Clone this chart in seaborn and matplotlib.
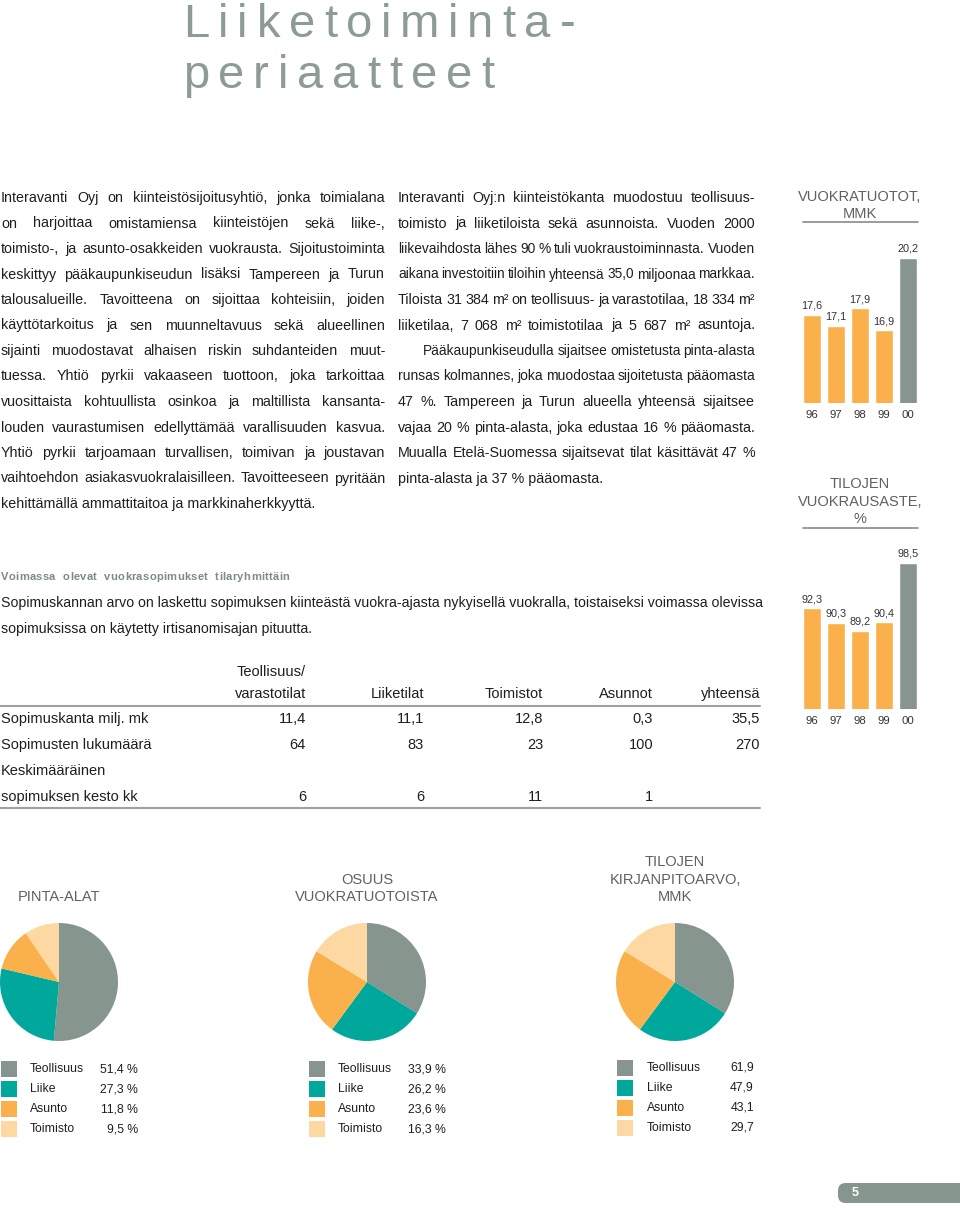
"""
Annual report page: Liiketoimintaperiaatteet
Recreated with matplotlib + seaborn, laid out in page pixels.
"""
import matplotlib
matplotlib.use("Agg")
import matplotlib.pyplot as plt
from matplotlib.patches import Rectangle, FancyBboxPatch
from matplotlib.lines import Line2D
import seaborn as sns

sns.set_theme(style="white")
plt.rcParams["font.family"] = ["Liberation Sans", "DejaVu Sans"]

# ------------------------------------------------------------------ #
# Data
# ------------------------------------------------------------------ #
years = ["96", "97", "98", "99", "00"]
rent_income = [17.6, 17.1, 17.9, 16.9, 20.2]      # VUOKRATUOTOT, MMK
occupancy = [92.3, 90.3, 89.2, 90.4, 98.5]       # TILOJEN VUOKRAUSASTE, %

pie_cats = ["Teollisuus", "Liike", "Asunto", "Toimisto"]
area_share = [51.4, 27.3, 11.8, 9.5]
income_share = [33.9, 26.2, 23.6, 16.3]
book_value = [61.9, 47.9, 43.1, 29.7]

table_cols = ["Teollisuus/\nvarastotilat", "Liiketilat", "Toimistot", "Asunnot", "yhteensä"]
contract_value = [11.4, 11.1, 12.8, 0.3, 35.5]
contract_count = [64, 83, 23, 100, 270]
contract_months = [6, 6, 11, 1, None]

left_text = [
    "Interavanti Oyj on kiinteistösijoitusyhtiö, jonka toimialana",
    "on harjoittaa omistamiensa kiinteistöjen sekä liike-,",
    "toimisto-, ja asunto-osakkeiden vuokrausta. Sijoitustoiminta",
    "keskittyy pääkaupunkiseudun lisäksi Tampereen ja Turun",
    "talousalueille. Tavoitteena on sijoittaa kohteisiin, joiden",
    "käyttötarkoitus ja sen muunneltavuus sekä alueellinen",
    "sijainti muodostavat alhaisen riskin suhdanteiden muut-",
    "tuessa. Yhtiö pyrkii vakaaseen tuottoon, joka tarkoittaa",
    "vuosittaista kohtuullista osinkoa ja maltillista kansanta-",
    "louden vaurastumisen edellyttämää varallisuuden kasvua.",
    "Yhtiö pyrkii tarjoamaan turvallisen, toimivan ja joustavan",
    "vaihtoehdon asiakasvuokralaisilleen. Tavoitteeseen pyritään",
    "kehittämällä ammattitaitoa ja markkinaherkkyyttä.",
]
right_text = [
    "Interavanti Oyj:n kiinteistökanta muodostuu teollisuus-",
    "toimisto ja liiketiloista sekä asunnoista. Vuoden 2000",
    "liikevaihdosta lähes 90 % tuli vuokraustoiminnasta. Vuoden",
    "aikana investoitiin tiloihin yhteensä 35,0 miljoonaa markkaa.",
    "Tiloista 31 384 m² on teollisuus- ja varastotilaa, 18 334 m²",
    "liiketilaa, 7 068 m² toimistotilaa ja 5 687 m² asuntoja.",
    "Pääkaupunkiseudulla sijaitsee omistetusta pinta-alasta",
    "runsas kolmannes, joka muodostaa sijoitetusta pääomasta",
    "47 %. Tampereen ja Turun alueella yhteensä sijaitsee",
    "vajaa 20 % pinta-alasta, joka edustaa 16 % pääomasta.",
    "Muualla Etelä-Suomessa sijaitsevat tilat käsittävät 47 %",
    "pinta-alasta ja 37 % pääomasta.",
]

GRAY = "#87958f"
TEAL = "#00a79b"
ORANGE = "#fbb14b"
PEACH = "#fdd8a2"
TITLE_C = "#8c9b95"
HEAD_C = "#606060"
BODY_C = "#1e1e1e"
pie_colors = [GRAY, TEAL, ORANGE, PEACH]
bar_colors = [ORANGE, ORANGE, ORANGE, ORANGE, GRAY]

# ------------------------------------------------------------------ #
# Page helpers (pixel coordinates, origin top-left)
# ------------------------------------------------------------------ #
W, H = 960, 1208
fig = plt.figure(figsize=(W / 100, H / 100), dpi=100)
renderer = fig.canvas.get_renderer()


def fx(x):
    return x / W


def fy(y):
    return 1 - y / H


def put(x, y, s, **kw):
    kw.setdefault("va", "baseline")
    return fig.text(fx(x), fy(y), s, **kw)


def hline(x0, x1, y, color="#a0a0a0", lw=1.5):
    fig.add_artist(Line2D([fx(x0), fx(x1)], [fy(y), fy(y)], color=color,
                          lw=lw, transform=fig.transFigure))


def width_of(s, **kw):
    t = fig.text(0, 0, s, **kw)
    w = t.get_window_extent(renderer).width
    t.remove()
    return w


def tracked(x, y, s, track, **kw):
    for ch in s:
        if ch != " ":
            put(x, y, ch, **kw)
        x += width_of(ch if ch != " " else "n", **kw) + track


def justified(x0, x1, y, line, justify=True, **kw):
    words = line.split(" ")
    if not justify or len(words) < 2:
        put(x0, y, line, **kw)
        return
    widths = [width_of(w, **kw) for w in words]
    min_gap = 3
    need = sum(widths) + min_gap * (len(words) - 1)
    if need > x1 - x0:
        # line too long for the column: tighten the type a little
        kw = dict(kw, fontsize=kw["fontsize"] * (x1 - x0) / need)
        widths = [width_of(w, **kw) for w in words]
    gap = (x1 - x0 - sum(widths)) / (len(words) - 1)
    x = x0
    for w, wd in zip(words, widths):
        put(x, y, w, **kw)
        x += wd + gap


def comma(v, nd=1):
    return f"{v:.{nd}f}".replace(".", ",")


# ------------------------------------------------------------------ #
# Title
# ------------------------------------------------------------------ #
tracked(183, 37, "Liiketoiminta-", 8.8, fontsize=34, color=TITLE_C)
tracked(183, 88, "periaatteet", 8.8, fontsize=34, color=TITLE_C)

# ------------------------------------------------------------------ #
# Body columns
# ------------------------------------------------------------------ #
body = dict(fontsize=10.3, color=BODY_C)
for i, line in enumerate(left_text):
    justified(1, 385, 202 + 25.5 * i, line, i < len(left_text) - 1, **body)
for i, line in enumerate(right_text):
    x0 = 423 if i == 6 else 398
    justified(x0, 755, 202 + 25.5 * i, line, i < len(right_text) - 1, **body)

# ------------------------------------------------------------------ #
# Bar charts (right margin)
# ------------------------------------------------------------------ #
def bar_panel(title_lines, title_y, rule_y, vals, ytop, ybot, ylim):
    for k, t in enumerate(title_lines):
        put(860, title_y + 17.5 * k, t, ha="center", fontsize=10.5, color=HEAD_C)
    hline(803, 918, rule_y, color="#8a8a8a", lw=1.2)

    ax = fig.add_axes([fx(800), fy(ybot), 120 / W, (ybot - ytop) / H])
    sns.barplot(x=years, y=vals, hue=years, palette=dict(zip(years, bar_colors)),
                legend=False, width=0.75, saturation=1, ax=ax)
    ax.set_ylim(*ylim)
    for cont, v in zip(ax.containers, vals):
        ax.bar_label(cont, labels=[comma(v)], padding=3, fontsize=7.8, color="#333333")
    ax.set_yticks([])
    ax.set(xlabel=None, ylabel=None)
    ax.tick_params(axis="x", length=0, pad=5, labelsize=8.2, labelcolor="#333333")
    sns.despine(ax=ax, left=True, bottom=True)
    ax.patch.set_alpha(0)


bar_panel(["VUOKRATUOTOT,", "MMK"], 201, 222, rent_income, 240, 403, (13.6, 21.0))
bar_panel(["TILOJEN", "VUOKRAUSASTE,", "%"], 488, 528, occupancy, 550, 709, (78.5, 100.3))

# ------------------------------------------------------------------ #
# Contract table
# ------------------------------------------------------------------ #
tracked(1, 580, "Voimassa olevat vuokrasopimukset tilaryhmittäin", 0.3,
        fontsize=8, fontweight="bold", color="#7d8a85")
put(1, 607, "Sopimuskannan arvo on laskettu sopimuksen kiinteästä vuokra-ajasta "
            "nykyisellä vuokralla, toistaiseksi voimassa olevissa", fontsize=10.2, color=BODY_C)
put(1, 633, "sopimuksissa on käytetty irtisanomisajan pituutta.", fontsize=10.2, color=BODY_C)

col_right = [306, 424, 543, 653, 760]
tab = dict(fontsize=10.5, color=BODY_C)
for xr, name in zip(col_right, table_cols):
    parts = name.split("\n")
    for k, p in enumerate(reversed(parts)):
        put(xr, 698 - 22 * k, p, ha="right", **tab)
hline(0, 760, 706)

rows = [
    (["Sopimuskanta milj. mk"], [comma(v) for v in contract_value]),
    (["Sopimusten lukumäärä"], [str(v) for v in contract_count]),
    (["Keskimääräinen", "sopimuksen kesto kk"],
     ["" if v is None else str(v) for v in contract_months]),
]
y = 723
for labels, cells in rows:
    for k, lab in enumerate(labels):
        put(1, y + 26 * k, lab, **tab)
    yv = y + 26 * (len(labels) - 1)
    for xr, c in zip(col_right, cells):
        put(xr, yv, c, ha="right", **tab)
    y += 26 * len(labels)
hline(0, 760, 808)

# ------------------------------------------------------------------ #
# Pie charts with legends
# ------------------------------------------------------------------ #
def pie_panel(cx, titles, vals, fmt, xsq, xlab, xval, y0):
    for k, t in enumerate(reversed(titles)):
        put(cx, 901 - 17.5 * k, t, ha="center", fontsize=10.5, color=HEAD_C)
    r, cy = 59, 982
    ax = fig.add_axes([fx(cx - r), fy(cy + r), 2 * r / W, 2 * r / H])
    ax.pie(vals, colors=pie_colors, startangle=90, counterclock=False,
           radius=1, wedgeprops=dict(linewidth=0))
    ax.set_xlim(-1, 1)
    ax.set_ylim(-1, 1)
    ax.set_aspect("equal")
    ax.axis("off")
    for i, (c, lab, v) in enumerate(zip(pie_colors, pie_cats, vals)):
        yy = y0 + 20 * i
        fig.add_artist(Rectangle((fx(xsq), fy(yy + 8)), 16 / W, 16 / H,
                                 color=c, lw=0, transform=fig.transFigure))
        put(xlab, yy, lab, va="center", fontsize=8.8, color=BODY_C)
        put(xval, yy, fmt(v), ha="right", va="center", fontsize=8.8, color=BODY_C)


pct = lambda v: comma(v) + " %"
pie_panel(59, ["PINTA-ALAT"], area_share, pct, 1, 30, 138, 1069)
pie_panel(367, ["OSUUS", "VUOKRATUOTOISTA"], income_share, pct, 309, 338, 446, 1069)
pie_panel(675, ["TILOJEN", "KIRJANPITOARVO,", "MMK"], book_value, comma, 617, 647, 754, 1068)

# ------------------------------------------------------------------ #
# Page number tab
# ------------------------------------------------------------------ #
fig.add_artist(FancyBboxPatch((fx(838), fy(1203)), 140 / W, 20 / H,
                              boxstyle="round,pad=0,rounding_size=0.008",
                              mutation_aspect=W / H, color=GRAY, lw=0,
                              transform=fig.transFigure))
put(852, 1193, "5", va="center", fontsize=9, fontweight="bold", color="white")

fig.savefig("out.png", dpi=100)
print("Saved: out.png")
